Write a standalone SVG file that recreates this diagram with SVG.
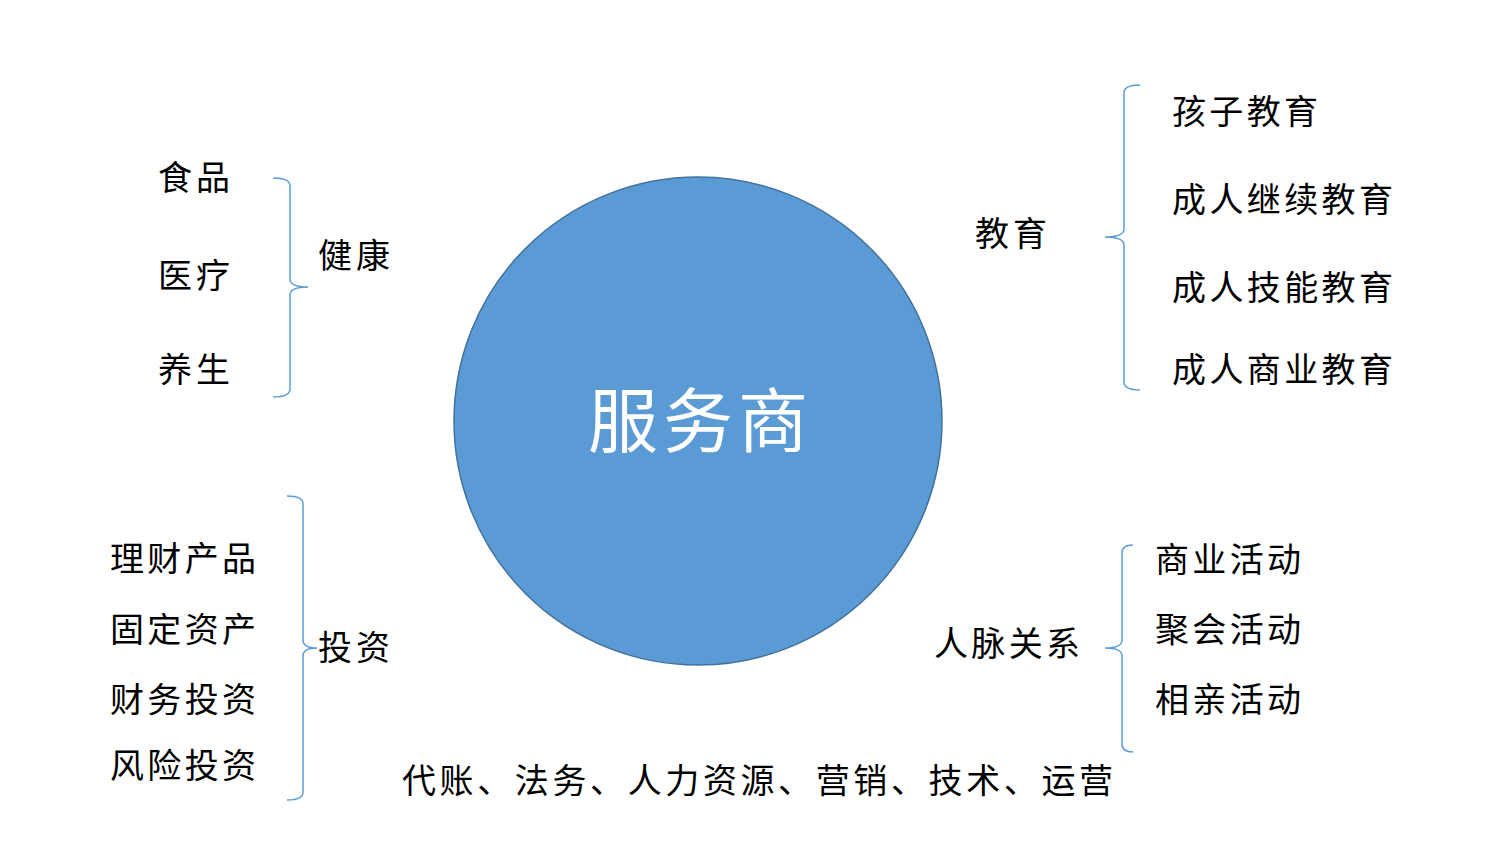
<svg xmlns="http://www.w3.org/2000/svg" width="1500" height="843" viewBox="0 0 1500 843">
<style>
.t{font-family:"Noto Sans CJK SC","Noto Sans CJK JP",sans-serif;font-size:34px;fill:#000;}
.brace{fill:none;stroke:#5B9BD5;stroke-width:1.5;}
.c{font-family:"Noto Sans CJK SC","Noto Sans CJK JP",sans-serif;font-size:70px;fill:#fff;}
</style>
<rect width="1500" height="843" fill="#fff"/>
<g id="center">
<circle cx="698" cy="421" r="244" fill="#5B9BD5" stroke="#41719C" stroke-width="1.5"/>
<text class="c" x="698" y="447" text-anchor="middle" textLength="220">服务商</text>
</g>
<g id="connectors">
<path class="brace" d="M273,178 Q290,178 290,186 L290,279 Q290,287 308,287 Q290,287 290,295 L290,389 Q290,397 273,397"/>
<path class="brace" d="M287,496 Q303,496 303,504 L303,640 Q303,648 317,648 Q303,648 303,656 L303,792 Q303,800 287,800"/>
<path class="brace" d="M1140,85 Q1124,85 1124,93 L1124,229 Q1124,237 1105,237 Q1124,237 1124,245 L1124,382 Q1124,390 1140,390"/>
<path class="brace" d="M1133,545 Q1122,545 1122,553 L1122,640 Q1122,648 1105,648 Q1122,648 1122,656 L1122,744 Q1122,752 1133,752"/>
</g>
<g id="health">
<text class="t" x="318" y="268" textLength="72">健康</text>
<text class="t" x="158" y="190" textLength="72">食品</text>
<text class="t" x="158" y="288" textLength="72">医疗</text>
<text class="t" x="158" y="382" textLength="72">养生</text>
</g>
<g id="investment">
<text class="t" x="318" y="660" textLength="72">投资</text>
<text class="t" x="110" y="571" textLength="146">理财产品</text>
<text class="t" x="110" y="642" textLength="146">固定资产</text>
<text class="t" x="110" y="712" textLength="146">财务投资</text>
<text class="t" x="110" y="778" textLength="146">风险投资</text>
</g>
<g id="education">
<text class="t" x="975" y="246" textLength="72">教育</text>
<text class="t" x="1172" y="124" textLength="146">孩子教育</text>
<text class="t" x="1172" y="212" textLength="221">成人继续教育</text>
<text class="t" x="1172" y="300" textLength="221">成人技能教育</text>
<text class="t" x="1172" y="382" textLength="221">成人商业教育</text>
</g>
<g id="network">
<text class="t" x="934" y="656" textLength="146">人脉关系</text>
<text class="t" x="1155" y="572" textLength="146">商业活动</text>
<text class="t" x="1155" y="642" textLength="146">聚会活动</text>
<text class="t" x="1155" y="712" textLength="146">相亲活动</text>
</g>
<g id="services">
<text class="t" x="402" y="793" textLength="711">代账、法务、人力资源、营销、技术、运营</text>
</g>
</svg>
